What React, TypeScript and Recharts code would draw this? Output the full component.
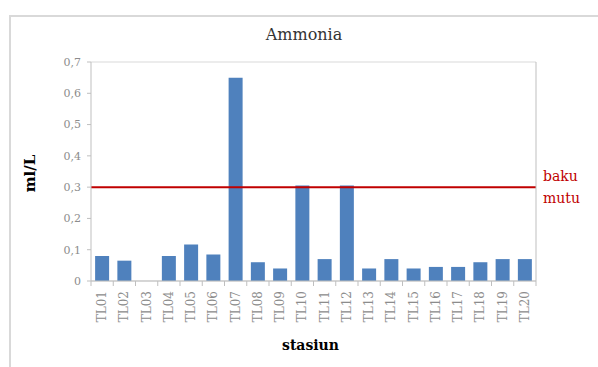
import React from 'react';
import { BarChart, Bar, XAxis, YAxis, CartesianGrid, ReferenceLine } from 'recharts';

const stations = ['TL01','TL02','TL03','TL04','TL05','TL06','TL07','TL08','TL09','TL10','TL11','TL12','TL13','TL14','TL15','TL16','TL17','TL18','TL19','TL20'];
const ammonia = [0.08,0.065,0,0.08,0.117,0.085,0.65,0.06,0.04,0.305,0.07,0.305,0.04,0.07,0.04,0.045,0.045,0.06,0.07,0.07];
const yTicks = [0,0.1,0.2,0.3,0.4,0.5,0.6,0.7];
const bakuMutu = 0.3;

const data = stations.map((s, i) => ({ station: s, value: ammonia[i] }));

const FONT = '"DejaVu Serif", serif';
const TICK_MARGIN = 10;

const XTick = (props: any) => {
  const { x, y, payload, width, index } = props;
  const half = width / stations.length / 2;
  const ay = y - TICK_MARGIN;
  return (
    <g>
      <line x1={x - half} x2={x - half} y1={ay} y2={ay + 5} stroke="#bfbfbf" />
      {index === stations.length - 1 && (
        <line x1={x + half} x2={x + half} y1={ay} y2={ay + 5} stroke="#bfbfbf" />
      )}
      <text x={x} y={y} transform={`rotate(-90, ${x}, ${y})`} textAnchor="end" dominantBaseline="central"
        fontFamily={FONT} fontSize={12} fill="#8c8c8c">{payload.value}</text>
    </g>
  );
};

const BakuLabel = (props: any) => {
  const { viewBox } = props;
  const x = viewBox.x + viewBox.width + 7;
  const y = viewBox.y;
  return (
    <g fontFamily={FONT} fontSize={14} fill="#c00000">
      <text x={x} y={y - 11} dominantBaseline="central">baku</text>
      <text x={x} y={y + 11} dominantBaseline="central">mutu</text>
    </g>
  );
};

const YLabel = (props: any) => {
  const { viewBox } = props;
  const x = viewBox.x + 30;
  const y = viewBox.y + viewBox.height / 2 + 2;
  return (
    <text x={x} y={y} transform={`rotate(-90, ${x}, ${y})`} textAnchor="middle" dominantBaseline="central"
      fontFamily={FONT} fontSize={15} fontWeight="bold" fill="#000">ml/L</text>
  );
};

const XLabel = (props: any) => {
  const { viewBox } = props;
  return (
    <text x={viewBox.x + viewBox.width / 2 - 3} y={viewBox.y + 64} textAnchor="middle" dominantBaseline="central"
      fontFamily={FONT} fontSize={14} fontWeight="bold" fill="#000">stasiun</text>
  );
};

export default function App() {
  return (
    <div style={{ position: 'absolute', left: 0, top: 0, width: 598, height: 367, overflow: 'hidden', background: '#fff' }}>
      <div style={{ position: 'absolute', left: 9, top: 15, width: 589, height: 352, borderTop: '2px solid #d9d9d9', borderLeft: '2px solid #d9d9d9', boxSizing: 'border-box' }} />
      <div style={{ position: 'absolute', left: 0, top: 25, width: 608, textAlign: 'center', fontFamily: FONT, fontSize: 16, color: '#333333', lineHeight: '20px' }}>Ammonia</div>
      <div style={{ position: 'absolute', left: 0, top: 0 }}>
        <BarChart width={598} height={367} data={data} margin={{ top: 62, right: 61, left: 0, bottom: 0 }} barCategoryGap="18.5%">
          <CartesianGrid vertical={false} stroke="#d9d9d9" />
          <XAxis dataKey="station" height={86} interval={0} tick={<XTick />} tickLine={false} tickSize={0}
            axisLine={{ stroke: '#bfbfbf' }} tickMargin={TICK_MARGIN} label={<XLabel />} />
          <YAxis yAxisId="v" domain={[0, 0.7]} ticks={yTicks} width={91} allowDataOverflow
            tickFormatter={(v: number) => (v === 0 ? '0' : v.toFixed(1).replace('.', ','))}
            tick={{ fontFamily: FONT, fontSize: 11, fill: '#8c8c8c' }} tickSize={4} tickMargin={6}
            tickLine={{ stroke: '#bfbfbf' }} axisLine={{ stroke: '#bfbfbf' }} label={<YLabel />} />
          <YAxis yAxisId="r" orientation="right" domain={[0, 0.7]} width={1} tick={false} tickLine={false}
            axisLine={{ stroke: '#bfbfbf' }} />
          <Bar yAxisId="v" dataKey="value" fill="#4f81bd" isAnimationActive={false} />
          <ReferenceLine yAxisId="v" y={bakuMutu} stroke="#c00000" strokeWidth={2} label={<BakuLabel />} />
        </BarChart>
      </div>
    </div>
  );
}
